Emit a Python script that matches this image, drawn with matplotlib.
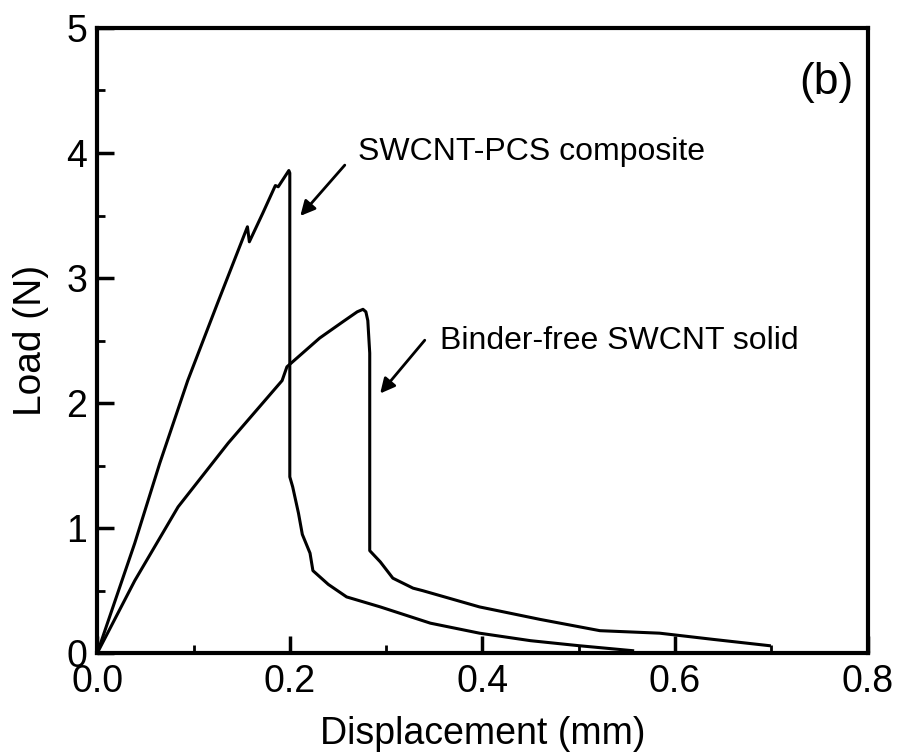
import matplotlib
matplotlib.use('Agg')
import matplotlib.pyplot as plt
from matplotlib.ticker import MultipleLocator

plt.rcParams['font.family'] = ['Liberation Sans', 'DejaVu Sans']

# SWCNT-PCS composite load-displacement curve
comp_x = [0.0, 0.039, 0.065, 0.094, 0.125, 0.156, 0.158, 0.172, 0.185, 0.188,
          0.199, 0.200, 0.200, 0.203, 0.209, 0.213, 0.221, 0.224, 0.240, 0.259,
          0.294, 0.346, 0.397, 0.450, 0.500, 0.556]
comp_y = [0.0, 0.88, 1.52, 2.18, 2.80, 3.41, 3.29, 3.52, 3.74, 3.73,
          3.86, 3.84, 1.41, 1.33, 1.12, 0.95, 0.80, 0.66, 0.55, 0.45,
          0.37, 0.24, 0.16, 0.10, 0.06, 0.02]

# Binder-free SWCNT solid
bf_x = [0.0, 0.039, 0.084, 0.136, 0.192, 0.197, 0.231, 0.255, 0.270, 0.276,
        0.279, 0.281, 0.283, 0.283, 0.294, 0.307, 0.328, 0.338, 0.397, 0.460,
        0.522, 0.584, 0.640, 0.698]
bf_y = [0.0, 0.58, 1.17, 1.68, 2.18, 2.29, 2.52, 2.65, 2.73, 2.75,
        2.73, 2.66, 2.40, 0.82, 0.73, 0.60, 0.52, 0.50, 0.37, 0.27,
        0.18, 0.16, 0.11, 0.06]

xticks = [0.0, 0.2, 0.4, 0.6, 0.8]
xtick_labels = ['0.0', '0.2', '0.4', '0.6', '0.8']

fig = plt.figure(figsize=(9, 7.56), dpi=100)
ax = fig.add_axes([0.108, 0.136, 0.856, 0.827])

ax.plot(comp_x, comp_y, color='black', lw=2.2)
ax.plot(bf_x, bf_y, color='black', lw=2.2)

ax.set_xlim(0, 0.8)
ax.set_ylim(0, 5)
ax.set_xticks(xticks)
ax.set_xticklabels(xtick_labels, fontsize=27)
ax.xaxis.set_minor_locator(MultipleLocator(0.1))
ax.yaxis.set_major_locator(MultipleLocator(1))
ax.yaxis.set_minor_locator(MultipleLocator(0.5))
ax.tick_params(axis='y', labelsize=27)
ax.tick_params(which='major', direction='in', length=12, width=2.5)
ax.tick_params(which='minor', direction='in', length=6, width=2)
ax.tick_params(axis='x', which='major', pad=8)
ax.tick_params(axis='y', which='major', pad=7)
for s in ax.spines.values():
    s.set_linewidth(3)

ax.set_xlabel('Displacement (mm)', fontsize=27, labelpad=11)
ax.set_ylabel('Load (N)', fontsize=28, labelpad=13)

ax.annotate('', xy=(0.209, 3.48), xytext=(0.259, 3.92),
            arrowprops=dict(arrowstyle='-|>', color='black', lw=2, mutation_scale=22))
ax.annotate('', xy=(0.292, 2.06), xytext=(0.342, 2.52),
            arrowprops=dict(arrowstyle='-|>', color='black', lw=2, mutation_scale=22))
ax.text(0.271, 4.01, 'SWCNT-PCS composite', fontsize=23, va='center', ha='left')
ax.text(0.356, 2.50, 'Binder-free SWCNT solid', fontsize=23, va='center', ha='left')
ax.text(0.757, 4.56, '(b)', fontsize=32, va='center', ha='center')

fig.savefig('out.png', dpi=100)
